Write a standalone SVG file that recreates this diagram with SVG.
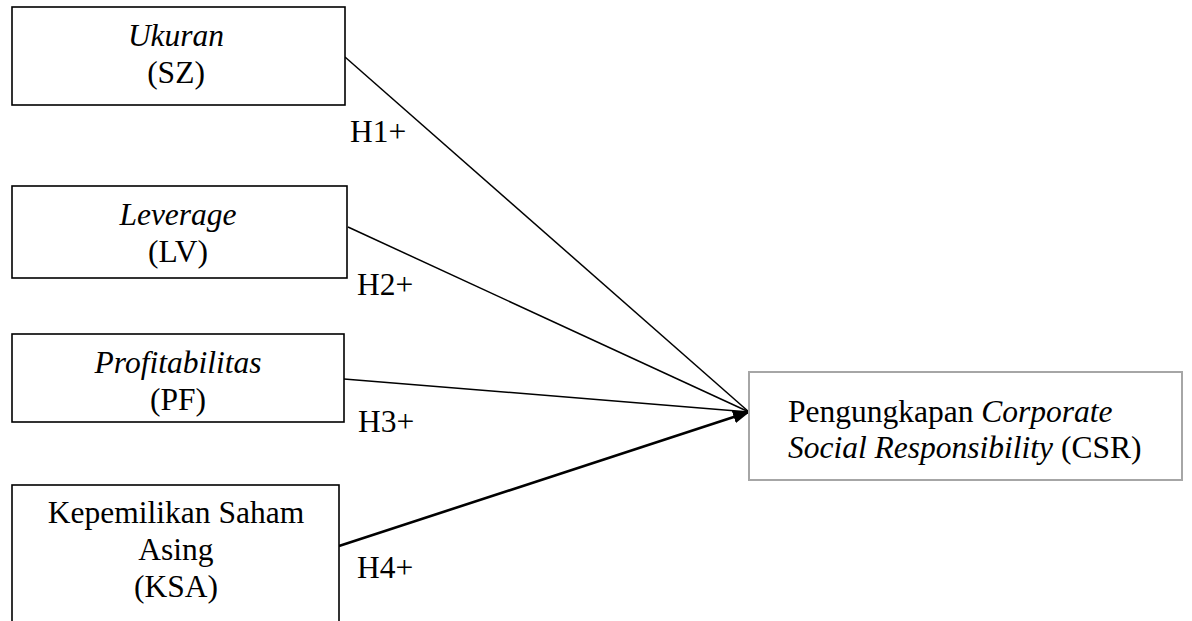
<svg xmlns="http://www.w3.org/2000/svg" width="1192" height="621" viewBox="0 0 1192 621">
<defs>
<style>
.box{fill:#fff;stroke:#000;stroke-width:1.6}
.csr{fill:#fff;stroke:#a6a6a6;stroke-width:2}
text{font-family:"Liberation Serif","Times New Roman",serif;font-size:31.5px;fill:#000}
.c{text-anchor:middle}
.i{font-style:italic}
.ln{stroke:#000;stroke-width:1.5;fill:none}
</style>
<marker id="ah2" markerWidth="17" markerHeight="13" refX="16" refY="6.5" orient="auto" markerUnits="userSpaceOnUse" viewBox="0 0 17 13">
<path d="M0,0 L17,6.5 L0,13 Z" fill="#000"/>
</marker>
</defs>
<rect width="1192" height="621" fill="#fff"/>
<g id="connectors">
<line class="ln" x1="345" y1="57" x2="749" y2="412"/>
<line class="ln" x1="348" y1="227" x2="749" y2="412"/>
<line class="ln" x1="344" y1="379" x2="749" y2="412"/>
<line class="ln" x1="339" y1="546" x2="749" y2="412" style="stroke-width:2.6" marker-end="url(#ah2)"/>
<text x="350" y="142">H1+</text>
<text x="357" y="295">H2+</text>
<text x="358" y="432">H3+</text>
<text x="357" y="578">H4+</text>
</g>
<g id="node-sz">
<rect class="box" x="12" y="7" width="333" height="98"/>
<text class="c i" x="176" y="46">Ukuran</text>
<text class="c" x="176" y="83">(SZ)</text>
</g>
<g id="node-lv">
<rect class="box" x="12" y="186" width="335" height="92"/>
<text class="c i" x="178" y="225">Leverage</text>
<text class="c" x="178" y="262">(LV)</text>
</g>
<g id="node-pf">
<rect class="box" x="12" y="334" width="332" height="88"/>
<text class="c i" x="178" y="373">Profitabilitas</text>
<text class="c" x="178" y="410">(PF)</text>
</g>
<g id="node-ksa">
<rect class="box" x="12" y="485" width="327" height="160"/>
<text class="c" x="176" y="523">Kepemilikan Saham</text>
<text class="c" x="176" y="560">Asing</text>
<text class="c" x="176" y="597">(KSA)</text>
</g>
<g id="node-csr">
<rect class="csr" x="749" y="372" width="433" height="108"/>
<text x="788" y="422">Pengungkapan <tspan class="i">Corporate</tspan></text>
<text x="788" y="458"><tspan class="i">Social Responsibility</tspan> (CSR)</text>
</g>
</svg>
